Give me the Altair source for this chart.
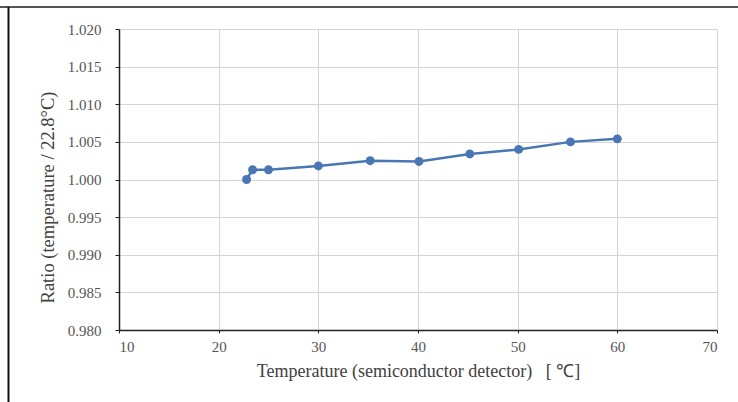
import altair as alt
import pandas as pd

temps = [22.8, 23.4, 25.0, 30.0, 35.2, 40.1, 45.2, 50.1, 55.3, 60.0]
ratios = [1.0000, 1.0013, 1.0013, 1.0018, 1.0025, 1.0024, 1.0034, 1.0040, 1.0050, 1.0054]
x_ticks = [10, 20, 30, 40, 50, 60, 70]
y_ticks = [0.980, 0.985, 0.990, 0.995, 1.000, 1.005, 1.010, 1.015, 1.020]

df = pd.DataFrame({"temp": temps, "ratio": ratios})

FONT = "Liberation Serif"
BLUE = "#4a76b4"

x_enc = alt.X(
    "temp:Q",
    scale=alt.Scale(domain=[10, 70], nice=False, zero=False),
    axis=alt.Axis(
        values=x_ticks,
        tickCount=len(x_ticks),
        title="Temperature (semiconductor detector)\u00a0\u00a0\u00a0[ ℃]",
        grid=True,
        gridColor="#d4d4d4",
        domainColor="#222222",
        domainWidth=1.5,
        tickColor="#222222",
        tickSize=3,
        labelPadding=6,
        labelOverlap=False,
        labelFont=FONT,
        labelFontSize=15,
        labelColor="#555555",
        titleFont=FONT,
        titleFontSize=18,
        titleFontWeight="normal",
        titleColor="#404040",
        titleY=46,
        titleBaseline="alphabetic",
    ),
)
y_enc = alt.Y(
    "ratio:Q",
    scale=alt.Scale(domain=[0.980, 1.020], nice=False, zero=False),
    axis=alt.Axis(
        values=y_ticks,
        tickCount=len(y_ticks),
        format=".3f",
        title="Ratio (temperature / 22.8°C)",
        grid=True,
        gridColor="#d4d4d4",
        domainColor="#222222",
        domainWidth=1.5,
        tickColor="#222222",
        tickSize=4,
        labelPadding=14,
        labelOverlap=False,
        labelFont=FONT,
        labelFontSize=15,
        labelColor="#555555",
        titleFont=FONT,
        titleFontSize=18.5,
        titleFontWeight="normal",
        titleColor="#404040",
        titleX=-72,
        titleY=168,
        titleBaseline="middle",
        titleAngle=270,
    ),
)

line = alt.Chart(df).mark_line(color=BLUE, strokeWidth=2.5).encode(x=x_enc, y=y_enc)
points = alt.Chart(df).mark_circle(color=BLUE, size=80, opacity=1).encode(x="temp:Q", y="ratio:Q")

frame_df = pd.DataFrame({"a": [0]})
top_rule = alt.Chart(frame_df).mark_rule(color="#555555", strokeWidth=2).encode(
    x=alt.value(-119), x2=alt.value(619), y=alt.value(-22)
)
left_rule = alt.Chart(frame_df).mark_rule(color="#111111", strokeWidth=2).encode(
    x=alt.value(-110.5), y=alt.value(-22), y2=alt.value(373)
)

chart = (
    alt.layer(line, points, top_rule, left_rule)
    .properties(
        width=598,
        height=301,
        autosize=alt.AutoSizeParams(type="none"),
        padding={"left": 119, "top": 29, "right": 21, "bottom": 72},
        background="white",
    )
    .configure_view(stroke=None)
)

chart.save("out.html", embed_options={"renderer": "svg", "actions": False})
